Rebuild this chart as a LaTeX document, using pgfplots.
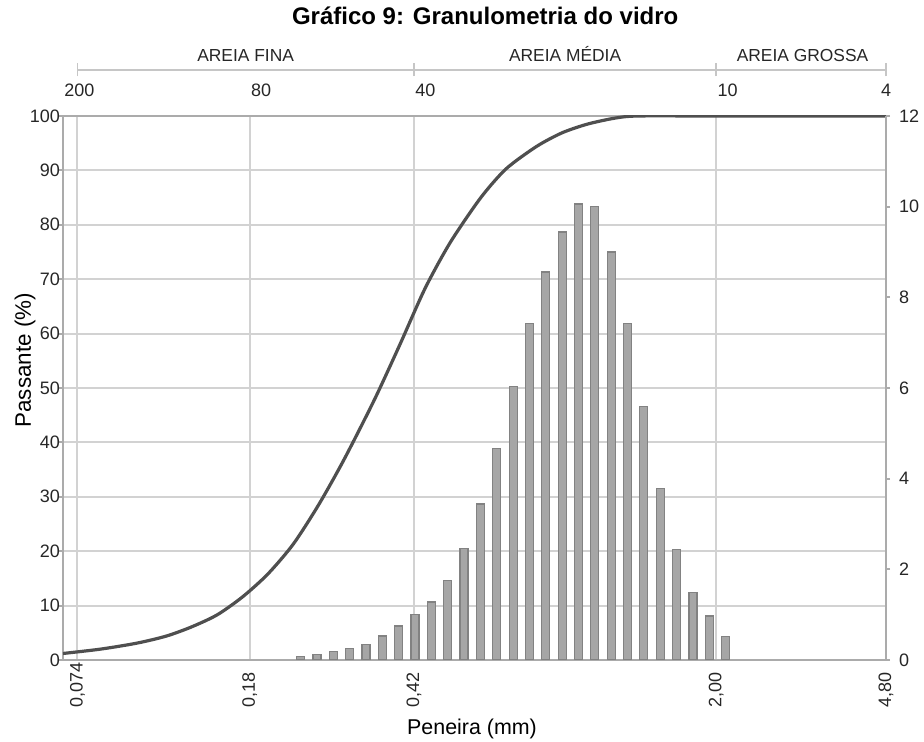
\documentclass[border=0pt]{standalone}
\usepackage{pgfplots}
\pgfplotsset{compat=1.18}
\usepackage{pgfplotstable}
\usepackage{fontspec}
\setmainfont{Liberation Sans}

\definecolor{gridc}{HTML}{D2D2D2}
\definecolor{axisc}{HTML}{ABABAB}
\definecolor{curvec}{HTML}{4F4F4F}
\definecolor{barfill}{HTML}{A6A6A6}
\definecolor{bardraw}{HTML}{828282}

% Cumulative passing (%) versus sieve opening (mm)
\pgfplotstableread{
d pct
0.0687 1.2
0.0834 2.0
0.1006 3.1
0.1171 4.4
0.1335 6.1
0.1522 8.3
0.1735 11.6
0.1977 15.8
0.2254 21.3
0.2568 28.5
0.2927 36.8
0.3424 47.8
0.3904 57.9
0.4449 68.3
0.5071 76.8
0.5933 85.0
0.6762 90.3
0.7910 94.4
0.9017 96.9
1.0277 98.5
1.1838 99.6
1.3354 100
2.0000 100
4.8000 100
}\curvetable

% Retained fraction per size class (right axis)
\pgfplotstableread{
d ret
0.2341 0.07
0.2547 0.13
0.2771 0.18
0.3015 0.26
0.3280 0.35
0.3569 0.53
0.3883 0.75
0.4225 1.01
0.4597 1.28
0.5001 1.76
0.5441 2.46
0.5920 3.44
0.6441 4.67
0.7008 6.04
0.7625 7.42
0.8296 8.56
0.9026 9.44
0.9820 10.06
1.0684 10.01
1.1624 9.00
1.2647 7.42
1.3760 5.60
1.4971 3.79
1.6288 2.43
1.7722 1.49
1.9281 0.97
2.0978 0.52
}\bartable

\begin{document}
\begin{tikzpicture}
\useasboundingbox (-31.5pt,-41pt) rectangle (430.5pt,330pt);

\begin{axis}[
  at={(0,0)}, anchor=south west,
  scale only axis, width=411.5pt, height=272pt,
  xmode=log, xmin=0.0687, xmax=4.8,
  tick align=outside,
  major tick length=2pt,
  /pgf/number format/assume math mode=true,
  ymin=0, ymax=100,
  ytick={0,10,...,100},
  xtick={0.074,0.18,0.42,2,4.8},
  xticklabels={{0,074},{0,18},{0,42},{2,00},{4,80}},
  xtick style={draw=none},
  ytick pos=left,
  xticklabel pos=lower,
  grid=major,
  major grid style={gridc, line width=1pt},
  axis line style={axisc, line width=1.1pt},
  ytick style={axisc, line width=1pt},
  yticklabel style={font=\fontsize{9}{10}\selectfont, text=black!85},
  yticklabel shift=-4pt,
  xticklabel style={font=\fontsize{9}{10}\selectfont, text=black!85, rotate=90, anchor=west},
  xticklabel shift=25.5pt,
  ylabel={Passante (\%)},
  ylabel style={at={(axis description cs:-0.046,0.551)}, anchor=center, font=\fontsize{11.2}{13}\selectfont},
  xlabel={Peneira (mm)},
  xlabel style={at={(axis description cs:0.497,-0.127)}, anchor=center, font=\fontsize{10.7}{12}\selectfont},
  clip mode=individual,
]
\addplot[curvec, line width=1.6pt, smooth, tension=0.45] table[x=d, y=pct] {\curvetable};

% chart title
\node[font=\bfseries\fontsize{12}{14}\selectfont, text height=1.6ex, text depth=0.3ex] at (axis description cs:0.513,1.1815) {Gráfico 9: Granulometria do vidro};

% sand classes bracket above the plot
\draw[gridc!85!gray, line width=0.9pt] (axis cs:0.074,108.5) -- (axis cs:4.8,108.5);
\draw[gridc!85!gray, line width=0.9pt] (axis cs:0.074,107.3) -- (axis cs:0.074,109.7);
\draw[gridc!85!gray, line width=0.9pt] (axis cs:0.42,107.3) -- (axis cs:0.42,109.7);
\draw[gridc!85!gray, line width=0.9pt] (axis cs:2,107.3) -- (axis cs:2,109.7);
\draw[gridc!85!gray, line width=0.9pt] (axis cs:4.8,107.3) -- (axis cs:4.8,109.7);
\node[font=\fontsize{8.7}{10}\selectfont, text=black!85, text height=1.6ex, text depth=0.2ex] at (axis cs:0.1763,111.3) {AREIA FINA};
\node[font=\fontsize{8.7}{10}\selectfont, text=black!85, text height=1.6ex, text depth=0.2ex] at (axis cs:0.9165,111.3) {AREIA MÉDIA};
\node[font=\fontsize{8.7}{10}\selectfont, text=black!85, text height=1.6ex, text depth=0.2ex] at (axis cs:3.12,111.3) {AREIA GROSSA};

% sieve numbers
\node[anchor=west, inner sep=0.5pt, font=\fontsize{9}{10}\selectfont, text=black!85] at (axis cs:0.0687,104.8) {200};
\node[anchor=west, inner sep=0.5pt, font=\fontsize{9}{10}\selectfont, text=black!85] at (axis cs:0.18,104.8) {80};
\node[anchor=west, inner sep=0.5pt, font=\fontsize{9}{10}\selectfont, text=black!85] at (axis cs:0.42,104.8) {40};
\node[anchor=west, inner sep=0.5pt, font=\fontsize{9}{10}\selectfont, text=black!85] at (axis cs:2,104.8) {10};
\node[anchor=center, inner sep=0.5pt, font=\fontsize{9}{10}\selectfont, text=black!85] at (axis cs:4.8,104.8) {4};
\end{axis}

\begin{axis}[
  at={(0,0)}, anchor=south west,
  scale only axis, width=411.5pt, height=272pt,
  xmode=log, xmin=0.0687, xmax=4.8,
  tick align=outside,
  major tick length=2pt,
  /pgf/number format/assume math mode=true,
  ymin=0, ymax=12,
  ytick={0,2,...,12},
  xtick=\empty,
  hide x axis,
  axis y line*=right,
  axis line style={axisc, line width=1.1pt},
  ytick style={axisc, line width=1pt},
  yticklabel style={font=\fontsize{9}{10}\selectfont, text=black!85, anchor=west},
  yticklabel shift=1pt,
]
\addplot[ybar, bar width=4pt, fill=barfill, draw=bardraw, line width=0.6pt] table[x=d, y=ret] {\bartable};
\end{axis}
\end{tikzpicture}
\end{document}
